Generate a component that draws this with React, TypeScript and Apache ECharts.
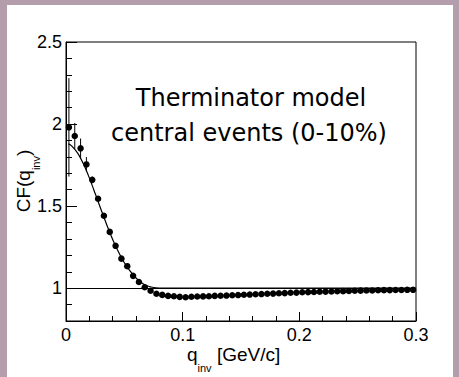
import React, { useEffect, useRef } from "react";
import * as echarts from "echarts";

// ---- data ----
const qBins = [
  0.0025, 0.0075, 0.0125, 0.0175, 0.0225, 0.0275, 0.0325, 0.0375, 0.0425, 0.0475,
  0.0525, 0.0575, 0.0625, 0.0675, 0.0725, 0.0775, 0.0825, 0.0875, 0.0925, 0.0975,
  0.1025, 0.1075, 0.1125, 0.1175, 0.1225, 0.1275, 0.1325, 0.1375, 0.1425, 0.1475,
  0.1525, 0.1575, 0.1625, 0.1675, 0.1725, 0.1775, 0.1825, 0.1875, 0.1925, 0.1975,
  0.2025, 0.2075, 0.2125, 0.2175, 0.2225, 0.2275, 0.2325, 0.2375, 0.2425, 0.2475,
  0.2525, 0.2575, 0.2625, 0.2675, 0.2725, 0.2775, 0.2825, 0.2875, 0.2925, 0.2975,
];
const cfValues = [
  1.98, 1.927, 1.852, 1.754, 1.66, 1.545, 1.441, 1.343, 1.258, 1.18,
  1.134, 1.075, 1.038, 1.006, 0.984, 0.966, 0.959, 0.953, 0.951, 0.947,
  0.945, 0.948, 0.949, 0.95, 0.951, 0.953, 0.954, 0.955, 0.957, 0.958,
  0.96, 0.961, 0.963, 0.964, 0.966, 0.967, 0.969, 0.97, 0.972, 0.973,
  0.975, 0.976, 0.977, 0.978, 0.979, 0.98, 0.981, 0.982, 0.983, 0.984,
  0.985, 0.986, 0.986, 0.987, 0.988, 0.988, 0.989, 0.989, 0.99, 0.99,
];
const cfErrors = [
  0.3, 0.08, 0.06, 0.045, 0.02, 0.012, 0, 0, 0, 0,
  0, 0, 0, 0, 0, 0, 0, 0, 0, 0,
  0, 0, 0, 0, 0, 0, 0, 0, 0, 0,
  0, 0, 0, 0, 0, 0, 0, 0, 0, 0,
  0, 0, 0, 0, 0, 0, 0, 0, 0, 0,
  0, 0, 0, 0, 0, 0, 0, 0, 0, 0,
];
const fitQ = [
  0.002, 0.005, 0.01, 0.015, 0.02, 0.025, 0.03, 0.035, 0.04, 0.045,
  0.05, 0.055, 0.06, 0.065, 0.07, 0.075, 0.08, 0.09, 0.1, 0.3,
];
const fitCF = [
  1.88, 1.866, 1.823, 1.756, 1.672, 1.577, 1.479, 1.385, 1.297, 1.22,
  1.155, 1.104, 1.062, 1.032, 1.013, 1.004, 1.001, 1.0, 1.0, 1.0,
];
const xTickLabels = ["0", "0.1", "0.2", "0.3"];
const yMajorTicks = [1, 1.5, 2, 2.5];
const yMajorLabels = ["1", "1.5", "2", "2.5"];
const yMinorTicks = [0.9, 1.1, 1.2, 1.3, 1.4, 1.6, 1.7, 1.8, 1.9, 2.1, 2.2, 2.3, 2.4];
const annotationLines = ["Therminator model", "central events (0-10%)"];

const FRAME = "#b59eab";
const LABEL_FONT = "Liberation Sans";

export default function App() {
  const ref = useRef<HTMLDivElement>(null);
  useEffect(() => {
    if (!ref.current) return;
    const chart = echarts.init(ref.current, null, { renderer: "svg" });
    const points = qBins.map((q, i) => [q, cfValues[i]]);
    const errs = qBins.map((q, i) => [q, cfValues[i], cfErrors[i]]);
    const fit = fitQ.map((q, i) => [q, fitCF[i]]);
    const titleRich = {
      m: { fontFamily: LABEL_FONT, fontSize: 19, lineHeight: 17, verticalAlign: "top" },
      s: { fontFamily: LABEL_FONT, fontSize: 11, lineHeight: 11, verticalAlign: "top", padding: [17, 0, 0, 0] },
    };
    const option: any = {
      animation: false,
      backgroundColor: "#ffffff",
      grid: {
        left: 66,
        top: 42,
        width: 350,
        height: 279,
        show: true,
        borderColor: "#000",
        borderWidth: 1,
        backgroundColor: "transparent",
      },
      xAxis: {
        type: "value",
        min: 0,
        max: 0.3,
        interval: 0.1,
        axisLine: { show: true, lineStyle: { color: "#000", width: 1 } },
        axisTick: { show: true, inside: true, length: 9, lineStyle: { color: "#000" } },
        minorTick: { show: true, splitNumber: 5, length: 5, lineStyle: { color: "#000" } },
        splitLine: { show: false },
        minorSplitLine: { show: false },
        axisLabel: {
          color: "#000",
          fontFamily: LABEL_FONT,
          fontSize: 18,
          margin: 5,
          formatter: (_v: number, i: number) => xTickLabels[i] ?? "",
        },
      },
      yAxis: [
        {
          type: "value",
          min: 0.8,
          max: 2.5,
          position: "left",
          axisLine: { show: true, lineStyle: { color: "#000", width: 1 } },
          axisTick: {
            show: true,
            inside: true,
            length: 11,
            customValues: yMajorTicks,
            lineStyle: { color: "#000" },
          },
          splitLine: { show: false },
          axisLabel: {
            color: "#000",
            fontFamily: LABEL_FONT,
            fontSize: 18,
            margin: 4,
            customValues: yMajorTicks,
            formatter: (v: number) => {
              const k = yMajorTicks.findIndex((t) => Math.abs(t - v) < 1e-6);
              return k >= 0 ? yMajorLabels[k] : "";
            },
          },
        },
        {
          type: "value",
          min: 0.8,
          max: 2.5,
          position: "left",
          axisLine: { show: false },
          axisTick: {
            show: true,
            inside: true,
            length: 6,
            customValues: yMinorTicks,
            lineStyle: { color: "#000" },
          },
          splitLine: { show: false },
          axisLabel: { show: false },
        },
      ],
      series: [
        {
          type: "line",
          data: fit,
          symbol: "none",
          smooth: 0.3,
          lineStyle: { color: "#000", width: 1.2 },
          z: 2,
          markLine: {
            silent: true,
            symbol: "none",
            label: { show: false },
            lineStyle: { color: "#000", width: 1, type: "solid" },
            data: [{ yAxis: 1 }],
          },
        },
        {
          type: "custom",
          data: errs,
          z: 3,
          renderItem: (_p: any, api: any) => {
            const x = api.value(0);
            const y = api.value(1);
            const e = api.value(2);
            if (!e) return null;
            const a = api.coord([x, y + e]);
            const b = api.coord([x, y - e]);
            return {
              type: "line",
              shape: { x1: a[0], y1: a[1], x2: b[0], y2: b[1] },
              style: { stroke: "#000", lineWidth: 1 },
            };
          },
        },
        {
          type: "scatter",
          data: points,
          symbol: "circle",
          symbolSize: 6.5,
          itemStyle: { color: "#000", opacity: 1 },
          z: 4,
        },
      ],
      graphic: [
        { type: "rect", shape: { x: 0, y: 0, width: 459, height: 5 }, style: { fill: FRAME }, silent: true },
        { type: "rect", shape: { x: 0, y: 0, width: 7, height: 377 }, style: { fill: FRAME }, silent: true },
        { type: "rect", shape: { x: 453, y: 0, width: 6, height: 377 }, style: { fill: FRAME }, silent: true },
        {
          type: "text",
          x: 251,
          y: 98,
          style: {
            text: annotationLines[0],
            fontFamily: "DejaVu Sans",
            fontSize: 24,
            fill: "#000",
            textAlign: "center",
            textVerticalAlign: "middle",
          },
        },
        {
          type: "text",
          x: 249,
          y: 133,
          style: {
            text: annotationLines[1],
            fontFamily: "DejaVu Sans",
            fontSize: 24,
            fill: "#000",
            textAlign: "center",
            textVerticalAlign: "middle",
          },
        },
        {
          type: "text",
          x: 187,
          y: 345,
          style: {
            text: "{m|q}{s|inv}{m| [GeV/c]}",
            fill: "#000",
            textAlign: "left",
            textVerticalAlign: "top",
            rich: titleRich,
          },
        },
        {
          type: "text",
          x: 22,
          y: 181,
          rotation: Math.PI / 2,
          style: {
            text: "{m|CF(q}{s|inv}{m|)}",
            fill: "#000",
            textAlign: "center",
            textVerticalAlign: "middle",
            rich: titleRich,
          },
        },
      ],
    };
    chart.setOption(option);
    return () => chart.dispose();
  }, []);
  return (
    <div
      ref={ref}
      style={{ position: "fixed", left: 0, top: 0, width: 459, height: 377 }}
    />
  );
}
